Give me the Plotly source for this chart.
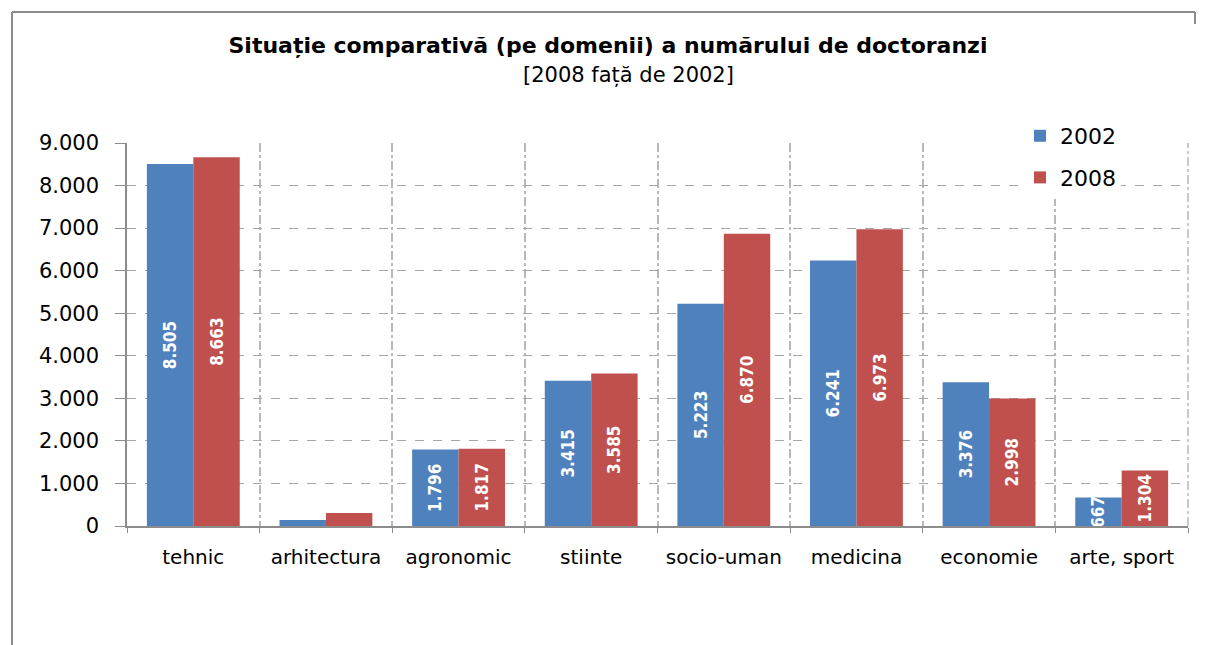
import plotly.graph_objects as go

categories = ["tehnic", "arhitectura", "agronomic", "stiinte", "socio-uman", "medicina", "economie", "arte, sport"]
years = ["2002", "2008"]
values_2002 = [8505, 141, 1796, 3415, 5223, 6241, 3376, 667]
values_2008 = [8663, 305, 1817, 3585, 6870, 6973, 2998, 1304]
y_ticks = [0, 1000, 2000, 3000, 4000, 5000, 6000, 7000, 8000, 9000]
colors = ["#4F81BD", "#C0504D"]

W, H = 1200, 637
L, R, T, B = 119, 20, 135, 119
PW = W - L - R
PH = H - T - B


def fmt(v):
    return f"{v:,}".replace(",", ".")


def labels(vals):
    return [fmt(v) if v >= 400 else "" for v in vals]


fig = go.Figure()
for name, vals, col, grp in [(years[0], values_2002, colors[0], "a"), (years[1], values_2008, colors[1], "b")]:
    fig.add_trace(go.Bar(
        x=categories, y=vals, name=name, marker=dict(color=col, line=dict(width=0)),
        text=labels(vals), textposition="inside", textangle=-90, insidetextanchor="middle",
        constraintext="none", legendgroup=grp,
        textfont=dict(family="DejaVu Sans Condensed, Liberation Sans Narrow, sans-serif", size=17,
                      color="white", weight="bold"),
    ))

fig.update_layout(
    width=W, height=H,
    margin=dict(l=L, r=R, t=T, b=B),
    paper_bgcolor="white", plot_bgcolor="white",
    barmode="group", bargap=0.3, bargroupgap=0,
    separators=",.",
    title=dict(text="<b>Situație comparativă (pe domenii) a numărului de doctoranzi</b>",
               x=0.5, xanchor="center", y=1 - 37 / H, yanchor="middle", yref="container",
               font=dict(family="DejaVu Sans, sans-serif", size=22, color="black")),
    legend=dict(x=(1012 - L) / PW, y=1 + (T - 107) / PH, xanchor="left", yanchor="top",
                bgcolor="white",
                font=dict(family="DejaVu Sans, sans-serif", size=22, color="black"),
                tracegroupgap=10),
    showlegend=True,
)
fig.add_annotation(text="[2008 față de 2002]", xref="paper", yref="paper", x=(620 - L) / PW, y=1 + (T - 67) / PH,
                   xanchor="center", yanchor="middle", showarrow=False,
                   font=dict(family="DejaVu Sans, sans-serif", size=21, color="black"))

fig.update_yaxes(range=[0, 9000], tickvals=y_ticks, tickformat=",d",
                 showgrid=True, gridcolor="#a6a6a6", griddash="dash", gridwidth=1,
                 showline=True, linecolor="#8c8c8c", linewidth=1.5,
                 ticks="outside", ticklen=10, tickcolor="#8c8c8c",
                 ticklabelstandoff=12, zeroline=False,
                 tickfont=dict(family="DejaVu Sans, sans-serif", size=21, color="black"))
fig.update_xaxes(tickson="boundaries", ticks="outside", ticklen=5, tickcolor="#8c8c8c",
                 showgrid=True, gridcolor="#b8b8b8", griddash="dashdot", gridwidth=1.5,
                 showline=True, linecolor="#8c8c8c", linewidth=1.5,
                 tickfont=dict(family="DejaVu Sans, sans-serif", size=20, color="black"),
                 ticklabelstandoff=12)

# right edge grid line of the plot area
fig.add_shape(type="line", xref="paper", yref="paper", x0=1, x1=1, y0=0, y1=1, layer="below",
              line=dict(color="#b8b8b8", width=1.5, dash="dashdot"))

# outer frame (Excel chart border)
fx0 = (4 - L) / PW
fx1 = (1187 - L) / PW
fy_top = 1 + (T - 4) / PH
fy_bot = -(H - (T + PH)) / PH
fy_notch = 1 + (T - 16) / PH
frame = dict(color="#8c8c8c", width=2)
fig.add_shape(type="line", xref="paper", yref="paper", x0=fx0, x1=fx0, y0=fy_bot, y1=fy_top, line=frame)
fig.add_shape(type="line", xref="paper", yref="paper", x0=fx0, x1=fx1, y0=fy_top, y1=fy_top, line=frame)
fig.add_shape(type="line", xref="paper", yref="paper", x0=fx1, x1=fx1, y0=fy_top, y1=fy_notch, line=frame)

fig.write_html("out.html")
